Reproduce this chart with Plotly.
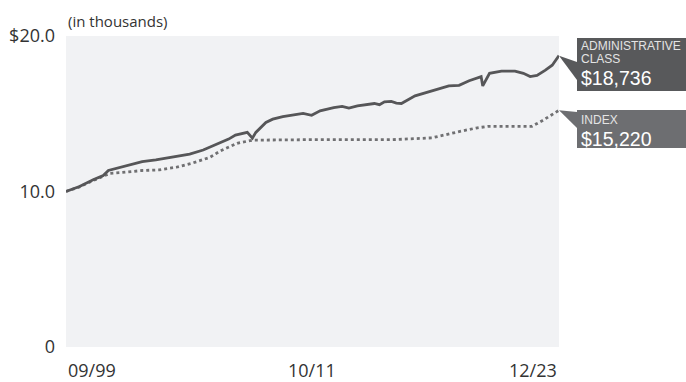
import plotly.graph_objects as go

# ---- data (values in thousands of dollars) ----
admin_dates = ["1999-09-01", "2000-05-01", "2001-01-01", "2001-07-01", "2001-10-01", "2002-04-01",
               "2002-11-01", "2003-06-01", "2004-02-01", "2004-12-01", "2005-10-01", "2006-06-01",
               "2007-02-01", "2007-09-01", "2008-01-01", "2008-03-01", "2008-08-01", "2008-11-01",
               "2009-01-01", "2009-07-01", "2009-11-01", "2010-05-01", "2010-11-01", "2011-05-01",
               "2011-10-01", "2012-03-01", "2012-11-01", "2013-04-01", "2013-08-01", "2014-01-01",
               "2014-11-01", "2015-02-01", "2015-05-01", "2015-09-01", "2015-12-01", "2016-03-01",
               "2016-11-01", "2017-09-01", "2018-07-01", "2019-01-01", "2019-07-01", "2020-02-01",
               "2020-03-01", "2020-07-01", "2021-02-01", "2021-10-01", "2022-03-01", "2022-07-01",
               "2022-11-01", "2023-04-01", "2023-08-01", "2023-12-01"]
admin_values = [10.0, 10.32, 10.75, 11.03, 11.35, 11.52,
                11.71, 11.92, 12.03, 12.2, 12.41, 12.67,
                13.04, 13.37, 13.63, 13.68, 13.8, 13.43,
                13.8, 14.44, 14.65, 14.81, 14.9, 15.02,
                14.9, 15.19, 15.4, 15.47, 15.37, 15.51,
                15.66, 15.58, 15.77, 15.79, 15.69, 15.66,
                16.15, 16.47, 16.79, 16.83, 17.12, 17.39,
                16.79, 17.6, 17.74, 17.74, 17.6, 17.39,
                17.47, 17.8, 18.12, 18.736]

index_dates = ["1999-09-01", "2000-05-01", "2001-01-01", "2001-07-01", "2001-11-01", "2002-08-01",
               "2003-06-01", "2004-04-01", "2005-02-01", "2005-12-01", "2006-10-01", "2007-04-01",
               "2007-09-01", "2008-02-01", "2008-11-01", "2011-05-01", "2015-09-01", "2017-09-01",
               "2019-01-01", "2019-11-01", "2020-06-01", "2022-08-01", "2023-02-01", "2023-12-01"]
index_values = [10.0, 10.3, 10.7, 10.95, 11.17, 11.24,
                11.35, 11.39, 11.56, 11.84, 12.2, 12.6,
                12.85, 13.1, 13.3, 13.33, 13.33, 13.45,
                13.85, 14.08, 14.19, 14.19, 14.55, 15.22]

x_tick_dates = ["1999-09-01", "2011-10-15", "2023-12-01"]
x_tick_labels = ["09/99", "10/11", "12/23"]
y_tick_vals = [0, 10, 20]
y_tick_labels = ["0", "10.0", "$20.0"]

admin_name_lines = ["ADMINISTRATIVE", "CLASS"]
index_name_lines = ["INDEX"]

# ---- figure ----
W, H = 686, 382
ML, MR, MT, MB = 66, 127, 36, 35
PW, PH = W - ML - MR, H - MT - MB

def px_x(px):
    return (px - ML) / PW

def px_y(py):
    return (H - MB - py) / PH

fig = go.Figure()
fig.add_trace(go.Scatter(x=index_dates, y=index_values, mode="lines",
                         line=dict(color="#707072", width=2.8, dash="dot"),
                         hoverinfo="skip", showlegend=False))
fig.add_trace(go.Scatter(x=admin_dates, y=admin_values, mode="lines",
                         line=dict(color="#565658", width=2.8),
                         hoverinfo="skip", showlegend=False))

font_main = "Open Sans, Noto Sans, sans-serif"

fig.update_layout(
    width=W, height=H,
    margin=dict(l=ML, r=MR, t=MT, b=MB, autoexpand=False),
    paper_bgcolor="white",
    plot_bgcolor="#f1f2f4",
    font=dict(family=font_main, size=18, color="#333333"),
    xaxis=dict(type="date", range=["1999-09-01", "2023-12-01"], showgrid=False,
               zeroline=False, showticklabels=False, showline=False, fixedrange=True,
               automargin=False),
    yaxis=dict(range=[0, 20], tickvals=y_tick_vals, ticktext=y_tick_labels,
               showgrid=False, zeroline=False, showline=False, ticks="",
               automargin=False,
               ticklabelstandoff=10, tickfont=dict(size=18, color="#333333")),
)

annotations = []
anchors = ["left", "center", "right"]
for d, lab, a in zip(x_tick_dates, x_tick_labels, anchors):
    annotations.append(dict(x=d, y=0, xref="x", yref="paper", text=lab, showarrow=False,
                            xanchor=a, yanchor="top", yshift=-9,
                            font=dict(size=18, color="#333333", family=font_main)))
annotations.append(dict(x=0, y=1, xref="paper", yref="paper", text="(in thousands)",
                        showarrow=False, xanchor="left", yanchor="bottom", yshift=3,
                        font=dict(size=15, color="#333333", family=font_main)))

shapes = []
box_x0 = px_x(577)
box_x1 = px_x(686)
end_admin = admin_values[-1]
end_index = index_values[-1]

# admin box
shapes.append(dict(type="rect", xref="paper", yref="paper", x0=box_x0, x1=box_x1,
                   y0=px_y(91), y1=px_y(38), fillcolor="#58595b", line=dict(width=0), layer="above"))
shapes.append(dict(type="path", xref="paper", yref="paper",
                   path=f"M 1,{end_admin/20} L {box_x0},{px_y(62)} L {box_x0},{px_y(80)} Z",
                   fillcolor="#58595b", line=dict(width=0), layer="above"))
# index box
shapes.append(dict(type="rect", xref="paper", yref="paper", x0=box_x0, x1=box_x1,
                   y0=px_y(148), y1=px_y(110), fillcolor="#6d6e71", line=dict(width=0), layer="above"))
shapes.append(dict(type="path", xref="paper", yref="paper",
                   path=f"M 1,{end_index/20} L {box_x0},{px_y(112)} L {box_x0},{px_y(128)} Z",
                   fillcolor="#6d6e71", line=dict(width=0), layer="above"))

lab_font = "Liberation Sans, Arial, sans-serif"
tx = px_x(580)

def label(text, cy, size, color):
    annotations.append(dict(x=tx, y=px_y(cy), xref="paper", yref="paper", text=text,
                            showarrow=False, xanchor="left", yanchor="middle",
                            borderpad=0,
                            font=dict(size=size, color=color, family=lab_font)))

label(admin_name_lines[0], 45.5, 12, "#e4e4e4")
label(admin_name_lines[1], 58.5, 12, "#e4e4e4")
label(f"${end_admin*1000:,.0f}", 77.5, 19.5, "#ffffff")
label(index_name_lines[0], 119.5, 12, "#e4e4e4")
label(f"${end_index*1000:,.0f}", 138.5, 19.5, "#ffffff")

fig.update_layout(annotations=annotations, shapes=shapes)
fig.write_html("out.html")
